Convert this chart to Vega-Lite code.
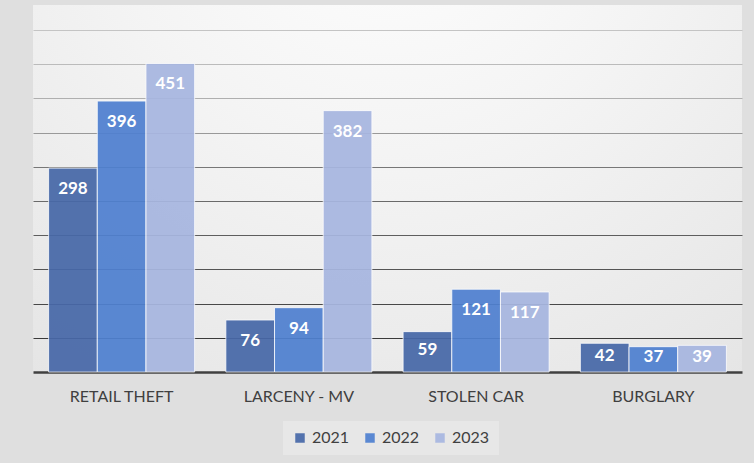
{
  "$schema": "https://vega.github.io/schema/vega-lite/v6.json",
  "width": 709,
  "height": 367,
  "autosize": {"type": "none"},
  "padding": {"left": 33, "top": 5, "right": 12, "bottom": 91},
  "background": "#dfdfdf",
  "data": {
    "values": [
      {"Category": "RETAIL THEFT", "Year": "2021", "Count": 298},
      {"Category": "RETAIL THEFT", "Year": "2022", "Count": 396},
      {"Category": "RETAIL THEFT", "Year": "2023", "Count": 451},
      {"Category": "LARCENY - MV", "Year": "2021", "Count": 76},
      {"Category": "LARCENY - MV", "Year": "2022", "Count": 94},
      {"Category": "LARCENY - MV", "Year": "2023", "Count": 382},
      {"Category": "STOLEN CAR", "Year": "2021", "Count": 59},
      {"Category": "STOLEN CAR", "Year": "2022", "Count": 121},
      {"Category": "STOLEN CAR", "Year": "2023", "Count": 117},
      {"Category": "BURGLARY", "Year": "2021", "Count": 42},
      {"Category": "BURGLARY", "Year": "2022", "Count": 37},
      {"Category": "BURGLARY", "Year": "2023", "Count": 39}
    ]
  },
  "config": {
    "view": {
      "stroke": null,
      "fill": {
        "gradient": "radial",
        "x1": 0.5, "y1": 0.05, "r1": 0,
        "x2": 0.5, "y2": 0.05, "r2": 1.0,
        "stops": [
          {"offset": 0, "color": "#ffffff"},
          {"offset": 0.4, "color": "#f4f4f4"},
          {"offset": 1, "color": "#e1e1e1"}
        ]
      }
    },
    "font": "Lato"
  },
  "encoding": {
    "x": {
      "field": "Category",
      "type": "nominal",
      "sort": ["RETAIL THEFT", "LARCENY - MV", "STOLEN CAR", "BURGLARY"],
      "scale": {"paddingInner": 0.176, "paddingOuter": 0.088},
      "axis": {
        "title": null,
        "labelAngle": 0,
        "labelFont": "Lato",
        "labelFontSize": 16,
        "labelColor": "#404040",
        "labelPadding": 16,
        "ticks": false,
        "domainColor": "#404040",
        "domainWidth": 2.5,
        "grid": false
      }
    },
    "xOffset": {
      "field": "Year",
      "type": "nominal",
      "scale": {"paddingInner": 0, "paddingOuter": 0}
    },
    "y": {
      "field": "Count",
      "type": "quantitative",
      "scale": {"domain": [0, 536.4], "nice": false},
      "axis": {
        "title": null,
        "labels": false,
        "ticks": false,
        "domain": false,
        "values": [50, 100, 150, 200, 250, 300, 350, 400, 450, 500],
        "gridWidth": 1.2,
        "gridColor": {
          "condition": [
            {"test": "datum.value >= 475", "value": "#c4c4c4"},
            {"test": "datum.value >= 425", "value": "#bbbbbb"},
            {"test": "datum.value >= 375", "value": "#afafaf"},
            {"test": "datum.value >= 325", "value": "#999999"},
            {"test": "datum.value >= 275", "value": "#777777"},
            {"test": "datum.value >= 225", "value": "#6a6a6a"},
            {"test": "datum.value >= 175", "value": "#5e5e5e"},
            {"test": "datum.value >= 125", "value": "#545454"},
            {"test": "datum.value >= 75", "value": "#484848"}
          ],
          "value": "#3a3a3a"
        }
      }
    }
  },
  "layer": [
    {
      "mark": {"type": "bar", "stroke": "#ffffff", "strokeWidth": 1, "strokeOpacity": 0.8, "opacity": 0.93},
      "encoding": {
        "color": {
          "field": "Year",
          "type": "nominal",
          "scale": {"domain": ["2021", "2022", "2023"], "range": ["#4768a8", "#4f80d0", "#a7b6e0"]},
          "legend": {
            "title": null,
            "orient": "none",
            "legendX": 250,
            "legendY": 416,
            "direction": "horizontal",
            "symbolType": "square",
            "symbolSize": 90,
            "symbolStrokeWidth": 0,
            "labelFont": "Lato",
            "labelFontSize": 16,
            "labelColor": "#404040",
            "columnPadding": 12,
            "labelOffset": 4,
            "fillColor": "#e7e7e7",
            "padding": 9
          }
        }
      }
    },
    {
      "mark": {
        "type": "text",
        "color": "#ffffff",
        "fontWeight": "bold",
        "font": "Lato",
        "fontSize": 17,
        "baseline": "middle",
        "dy": {"expr": "min(21, datum.Count * 0.342 - 2)"}
      },
      "encoding": {
        "text": {"field": "Count", "type": "quantitative"}
      }
    }
  ]
}
